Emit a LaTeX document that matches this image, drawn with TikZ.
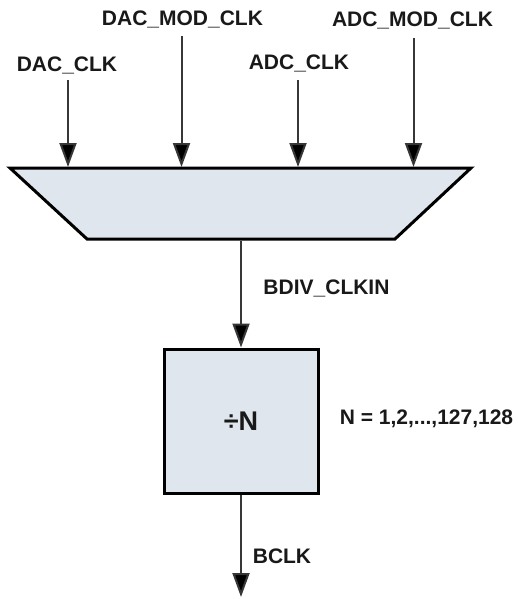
\documentclass[tikz,border=0pt]{standalone}
\usepackage{fontspec}
\setmainfont{Liberation Sans}
\usetikzlibrary{arrows.meta}
\definecolor{blockfill}{RGB}{223,230,238}
\definecolor{wire}{RGB}{55,55,55}
\begin{document}
\begin{tikzpicture}[x=1pt,y=-1pt,
  lbl/.style={font=\fontsize{21}{24}\selectfont\bfseries, text=black!90, inner sep=0pt},
  sig/.style={draw=wire, line width=2pt, -{Triangle[width=17pt,length=24pt,fill=black]}},
  blk/.style={draw=black, line width=3pt, fill=blockfill}]
\useasboundingbox (0,0) rectangle (517,599);
% trapezoid (mux)
\coordinate (tl) at (10,168);
\coordinate (tr) at (471,168);
\coordinate (br) at (395,239);
\coordinate (bl) at (87,239);
\draw[blk, line join=miter] (tl) -- (tr) -- (br) -- (bl) -- cycle;
% input labels
\node[lbl] (dacclk) at (67,65) {DAC\_CLK};
\node[lbl] (dacmod) at (182.5,19.5) {DAC\_MOD\_CLK};
\node[lbl] (adcclk) at (299,63) {ADC\_CLK};
\node[lbl] (adcmod) at (412.5,20.5) {ADC\_MOD\_CLK};
% input wires
\coordinate (s1) at (68,80);   \coordinate (e1) at (68,167);
\coordinate (s2) at (181.5,36); \coordinate (e2) at (181.5,167);
\coordinate (s3) at (298,80);  \coordinate (e3) at (298,167);
\coordinate (s4) at (413.5,38); \coordinate (e4) at (413.5,167);
\draw[sig] (s1) -- (e1);
\draw[sig] (s2) -- (e2);
\draw[sig] (s3) -- (e3);
\draw[sig] (s4) -- (e4);
% divider
\node[blk, minimum width=154pt, minimum height=144pt, inner sep=0pt] (div) at (241,421) {};
\node[lbl, font=\fontsize{27}{30}\selectfont\bfseries] (divtxt) at (241,421) {÷N};
\coordinate (mo) at (241,240.5);
\draw[sig] (mo) -- (div.north);
\node[lbl] (bdiv) at (326.5,288) {BDIV\_CLKIN};
\node[lbl] (nrange) at (426.5,418.5) {N = 1,2,...,127,128};
% output
\coordinate (out) at (241,597);
\draw[sig] (div.south) -- (out);
\node[lbl] (bclk) at (282,556) {BCLK};
\end{tikzpicture}
\end{document}
